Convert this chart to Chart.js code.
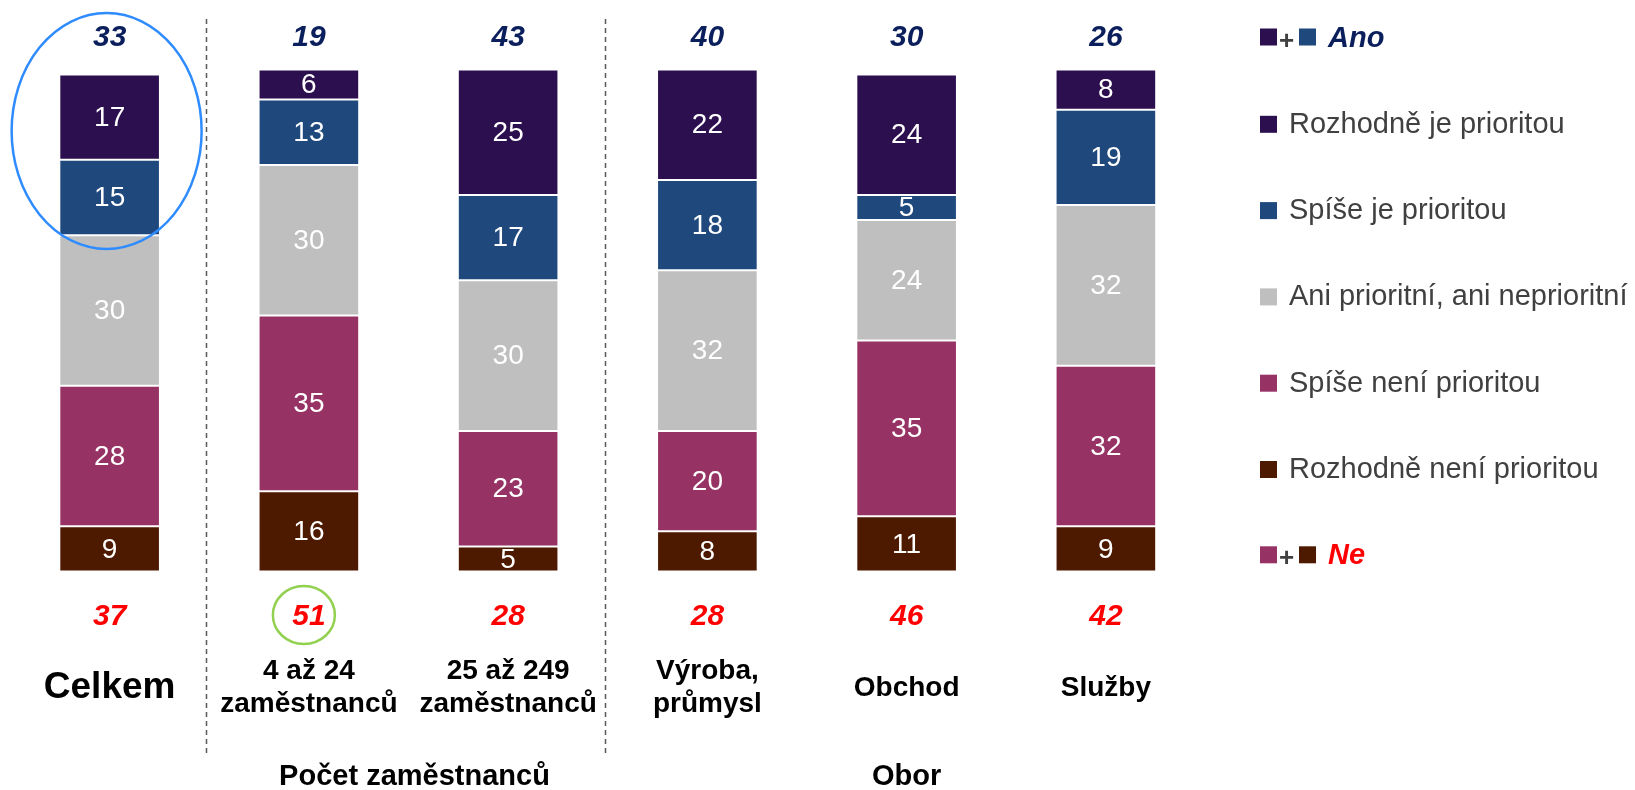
<!DOCTYPE html>
<html>
<head>
<meta charset="utf-8">
<script src="https://cdn.jsdelivr.net/npm/chart.js@4.4.0/dist/chart.umd.min.js"></script>
<style>
html,body{margin:0;padding:0;background:#fff;}
#wrap{width:1635px;height:790px;position:relative;}
</style>
</head>
<body>
<div id="wrap"><canvas id="c" width="1635" height="790"></canvas></div>
<script>
// ---- data ----
const categories = [["Celkem"], ["4 až 24", "zaměstnanců"], ["25 až 249", "zaměstnanců"], ["Výroba,", "průmysl"], ["Obchod"], ["Služby"]];
const rozhodneNeni = [9, 16, 5, 8, 11, 9];
const spiseNeni = [28, 35, 23, 20, 35, 32];
const aniAni = [30, 30, 30, 32, 24, 32];
const spiseJe = [15, 13, 17, 18, 5, 19];
const rozhodneJe = [17, 6, 25, 22, 24, 8];
const anoTotals = [33, 19, 43, 40, 30, 26];
const neTotals = [37, 51, 28, 28, 46, 42];
const groupLabels = ["Počet zaměstnanců", "Obor"];
const legendLabels = ["Ano", "Rozhodně je prioritou", "Spíše je prioritou", "Ani prioritní, ani neprioritní", "Spíše není prioritou", "Rozhodně není prioritou", "Ne"];

const C_RJ = '#2B0F4E', C_SJ = '#1F497D', C_AN = '#BFBFBF', C_SN = '#963264', C_RN = '#4D1A00';
const FONT = "'Liberation Sans', Arial, sans-serif";

function ds(label, data, color) {
  return { label, data, backgroundColor: color, borderColor: 'rgba(255,255,255,0.35)', borderWidth: 1, borderSkipped: false, barPercentage: 1, categoryPercentage: 0.505 };
}

const overlay = {
  id: 'overlay',
  afterDatasetsDraw(chart) {
    const ctx = chart.ctx;
    const xs = chart.scales.x;
    ctx.save();
    // segment labels
    ctx.fillStyle = '#fff';
    ctx.font = '28px ' + FONT;
    ctx.textAlign = 'center';
    ctx.textBaseline = 'middle';
    chart.data.datasets.forEach((d, di) => {
      const meta = chart.getDatasetMeta(di);
      meta.data.forEach((bar, i) => {
        const p = bar.getProps(['x', 'y', 'base'], true);
        ctx.fillText(String(d.data[i]), p.x, (p.y + p.base) / 2 + 1);
      });
    });
    // totals
    ctx.font = 'italic bold 30px ' + FONT;
    categories.forEach((c, i) => {
      const x = xs.getPixelForValue(i);
      ctx.fillStyle = '#0A1F5C';
      ctx.fillText(String(anoTotals[i]), x, 38);
      ctx.fillStyle = '#FF0000';
      ctx.fillText(String(neTotals[i]), x, 617);
    });
    // category labels
    ctx.fillStyle = '#000';
    categories.forEach((c, i) => {
      const x = xs.getPixelForValue(i);
      if (i === 0) {
        ctx.font = 'bold 37px ' + FONT;
        ctx.fillText(c[0], x, 688);
      } else if (c.length === 1) {
        ctx.font = 'bold 28px ' + FONT;
        ctx.fillText(c[0], x, 688);
      } else {
        ctx.font = 'bold 28px ' + FONT;
        ctx.fillText(c[0], x, 671);
        ctx.fillText(c[1], x, 704);
      }
    });
    // group labels
    ctx.font = 'bold 29px ' + FONT;
    ctx.fillText(groupLabels[0], (xs.getPixelForValue(1) + xs.getPixelForValue(2)) / 2 + 6, 777);
    ctx.fillText(groupLabels[1], xs.getPixelForValue(4), 777);
    // dashed separators
    ctx.strokeStyle = '#595959';
    ctx.lineWidth = 1.5;
    ctx.setLineDash([5, 4]);
    [0.5, 2.5].forEach(v => {
      const x = Math.round(xs.getPixelForValue(v)) - 2.5;
      ctx.beginPath(); ctx.moveTo(x, 19); ctx.lineTo(x, 753); ctx.stroke();
    });
    ctx.setLineDash([]);
    // ellipses
    const x0 = xs.getPixelForValue(0);
    ctx.strokeStyle = '#2F8CFF';
    ctx.lineWidth = 2.5;
    ctx.beginPath(); ctx.ellipse(x0 - 3, 131, 95, 118, 0, 0, Math.PI * 2); ctx.stroke();
    const x1 = xs.getPixelForValue(1);
    ctx.strokeStyle = '#92D050';
    ctx.lineWidth = 2.5;
    ctx.beginPath(); ctx.ellipse(x1 - 5, 615, 31, 29, 0, 0, Math.PI * 2); ctx.stroke();
    // legend
    const lx = 1260, sq = 17;
    legendLabels.forEach((t, i) => {
      const y = 37.5 + i * 86.3;
      ctx.textAlign = 'left';
      ctx.textBaseline = 'middle';
      if (i === 0 || i === 6) {
        const cols = i === 0 ? [C_RJ, C_SJ] : [C_SN, C_RN];
        ctx.fillStyle = cols[0]; ctx.fillRect(lx, y - 9, sq, sq);
        ctx.fillStyle = '#404040'; ctx.font = 'bold 26px ' + FONT;
        ctx.fillText('+', lx + 19, y + 4);
        ctx.fillStyle = cols[1]; ctx.fillRect(lx + 39, y - 9, sq, sq);
        ctx.font = 'italic bold 29px ' + FONT;
        ctx.fillStyle = i === 0 ? '#0A1F5C' : '#FF0000';
        ctx.fillText(t, 1328, y + 1);
      } else {
        const cols = [null, C_RJ, C_SJ, C_AN, C_SN, C_RN];
        ctx.fillStyle = cols[i]; ctx.fillRect(lx, y - 8, sq, sq);
        ctx.fillStyle = '#404040'; ctx.font = '29px ' + FONT;
        ctx.fillText(t, 1289, y + 1);
      }
    });
    ctx.restore();
  }
};

new Chart(document.getElementById('c'), {
  type: 'bar',
  data: {
    labels: categories.map(c => c.join(' ')),
    datasets: [
      ds(legendLabels[5], rozhodneNeni, C_RN),
      ds(legendLabels[4], spiseNeni, C_SN),
      ds(legendLabels[3], aniAni, C_AN),
      ds(legendLabels[2], spiseJe, C_SJ),
      ds(legendLabels[1], rozhodneJe, C_RJ)
    ]
  },
  options: {
    responsive: false,
    animation: false,
    devicePixelRatio: 1,
    layout: { padding: { left: 10, right: 429.5, top: 69.5, bottom: 218.5 } },
    plugins: { legend: { display: false }, tooltip: { enabled: false }, title: { display: false } },
    scales: {
      x: { stacked: true, display: false },
      y: { stacked: true, display: false, min: 0, max: 100 }
    }
  },
  plugins: [overlay]
});
</script>
</body>
</html>
